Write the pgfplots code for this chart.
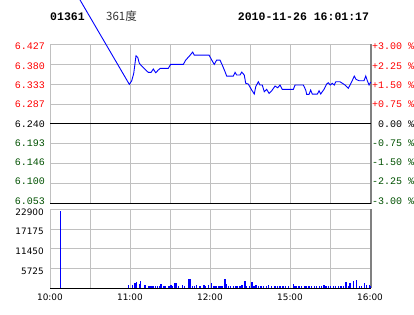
\documentclass[border=0pt]{standalone}
\usepackage{pgfplots}
\pgfplotsset{compat=1.18}
\usepackage{fontspec}
\setmainfont{DejaVu Sans}
\newfontfamily\monof{Liberation Mono}
\newfontfamily\cjk{Noto Sans CJK SC}
\definecolor{gridgray}{RGB}{192,192,192}
\definecolor{bordergray}{RGB}{128,128,128}
\definecolor{dgreen}{RGB}{0,80,0}
\definecolor{lblred}{RGB}{255,0,0}
\begin{document}
\begin{tikzpicture}
\pgfplotsset{
  base/.style={scale only axis, xmin=0, xmax=240.75, xtick={0,30,...,240},
    major tick length=0pt, axis line style={draw=none}, clip=false,
    scaled y ticks=false, scaled x ticks=false,
    /pgf/number format/assume math mode=true},
  lbl/.style={base, at={(50pt,113.2pt)}, anchor=south west, width=321pt, height=154.1pt,
    ymin=6.0528, ymax=6.4272, xtick=\empty,
    ytick={6.0528,6.0996,6.1464,6.1932,6.24,6.2868,6.3336,6.3804,6.4272}},
}
% ---------- price panel ----------
\begin{axis}[base, at={(50pt,110.5pt)}, anchor=south west, width=321pt, height=159.2pt,
  ymin=6.0528, ymax=6.4272, grid=major, major grid style={gridgray, line width=0.9pt},
  ytick={6.0528,6.0996,6.1464,6.1932,6.24,6.2868,6.3336,6.3804,6.4272},
  yticklabel=\empty, xticklabel=\empty]
\draw[gridgray, line width=0.9pt] (rel axis cs:0,0) -- (rel axis cs:0,1) -- (rel axis cs:1,1);
\draw[bordergray, line width=1.2pt] (rel axis cs:1,1) -- (rel axis cs:1,0);
\draw[black, line width=1.2pt] (rel axis cs:0,0) -- (rel axis cs:1,0);
\draw[black, line width=1pt] (axis cs:0,6.24) -- (axis cs:240.75,6.24);
\addplot[blue, line width=0.9pt] coordinates {
(7.7,6.611) (59.5,6.333) (61.3,6.3415) (62.8,6.3589) (64.5,6.4002) (65.8,6.3965)
(67.0,6.3824) (68.8,6.376) (71.3,6.3683) (73.7,6.3612) (75.8,6.3612) (77.5,6.369)
(79.3,6.3603) (81.2,6.3666) (82.7,6.3706) (88.7,6.3706) (90.5,6.380) (100,6.380)
(101.8,6.3901) (105,6.4012) (107,6.4089) (108.2,6.4019) (119.3,6.4019) (121.3,6.3901)
(123.2,6.380) (125,6.3901) (127.5,6.3901) (129.2,6.3784) (131.3,6.3626) (132.5,6.3525)
(137.5,6.3525) (138.8,6.3612) (140,6.3549) (142.5,6.3549) (143.8,6.3619) (145.7,6.3549)
(146.8,6.3354) (148.7,6.3337) (151.3,6.3196) (153.2,6.3102) (154.3,6.3274) (156.2,6.3391)
(157.5,6.3314) (159.2,6.3314) (160.7,6.3156) (162.5,6.3213) (164.3,6.3119) (166.3,6.318)
(168.8,6.329) (170.8,6.325) (172.5,6.3314) (174.2,6.3213) (182.5,6.3213) (183.8,6.3314)
(190,6.3314) (191.8,6.3196) (192.5,6.3095) (194.3,6.3095) (195.5,6.3196) (196.7,6.3102)
(200.5,6.3102) (201.8,6.318) (203,6.3102) (205.5,6.3213) (207.5,6.3337) (208.7,6.3368)
(210.2,6.3314) (211.7,6.3354) (213.2,6.3314) (214.3,6.3391) (217.5,6.3391) (221.3,6.3314)
(223.7,6.3236) (226.3,6.3391) (228.2,6.3525) (229.5,6.3448) (231.8,6.3415) (235.5,6.3415)
(236.8,6.3525) (238,6.3415) (239.3,6.3314) (240.5,6.3384)
};
\end{axis}
% ---------- price labels (left) ----------
\begin{axis}[lbl,
  yticklabels={\textcolor{dgreen}{6.053},\textcolor{dgreen}{6.100},\textcolor{dgreen}{6.146},\textcolor{dgreen}{6.193},6.240,\textcolor{lblred}{6.287},\textcolor{lblred}{6.333},\textcolor{lblred}{6.380},\textcolor{lblred}{6.427}},
  yticklabel style={anchor=east, inner sep=0pt, xshift=-5pt, font=\monof\fontsize{10}{10}\selectfont}]
\end{axis}
% ---------- percent labels (right) ----------
\begin{axis}[lbl, yticklabel pos=right,
  yticklabels={\textcolor{dgreen}{-3.00~\%},\textcolor{dgreen}{-2.25~\%},\textcolor{dgreen}{-1.50~\%},\textcolor{dgreen}{-0.75~\%},\phantom{+}0.00~\%,\textcolor{lblred}{+0.75~\%},\textcolor{lblred}{+1.50~\%},\textcolor{lblred}{+2.25~\%},\textcolor{lblred}{+3.00~\%}},
  yticklabel style={anchor=west, inner sep=0pt, xshift=0.8pt, font=\monof\fontsize{10}{10}\selectfont}]
\end{axis}
% ---------- volume panel ----------
\begin{axis}[base, at={(50pt,25.7pt)}, anchor=south west, width=321pt, height=79pt,
  ymin=0, ymax=22900, grid=major, major grid style={gridgray, line width=0.9pt},
  ytick={0,5725,11450,17175,22900}, yticklabels={,5725,11450,17175,22900},
  xticklabels={10:00,,11:00,,12:00,,15:00,,16:00},
  yticklabel style={anchor=east, inner sep=0pt, xshift=-6pt, yshift=-2.7pt, font=\fontsize{8.9}{9}\selectfont},
  xticklabel style={anchor=north, inner sep=0pt, yshift=-5.5pt, font=\fontsize{8.9}{9}\selectfont}]
\draw[gridgray, line width=0.9pt] (rel axis cs:0,0) -- (rel axis cs:0,1) -- (rel axis cs:1,1);
\draw[bordergray, line width=1.2pt] (rel axis cs:1,1) -- (rel axis cs:1,0);
\addplot[ycomb, blue, line width=1.3pt, no marks] coordinates {
(7.7,22400) (58.7,960) (61.7,960) (63.8,1450) (64.7,1740) (67,1160) (68,2120) (71.3,960)
(74.3,670) (75.8,670) (77.3,670) (79.3,670) (80.5,670) (82.5,670) (83.3,1250) (85.5,670)
(86.8,670) (89.3,670) (90.8,960) (91.5,670) (93.8,1540) (94.5,1540) (96.5,670) (99.5,960)
(100.7,670) (104.3,2700) (105.5,2700) (107,670) (108.2,670) (110,960) (112,670) (113,670)
(115.5,960) (116.5,670) (119,960) (121.3,1540) (123,670) (124.5,670) (126.2,670) (127.5,670)
(129,670) (131.3,2700) (132,1250) (134,670) (135.2,670) (137.5,670) (139.5,670) (140.5,670)
(142.5,670) (144,960) (146.3,2120) (147.5,670) (149.5,670) (151.5,1830) (153,670) (154.5,960)
(156.2,670) (158.3,670) (160.3,670) (162.2,670) (164,960) (166.3,670) (168.8,670) (170.5,670)
(172.5,670) (174.8,670) (176.8,670) (178.7,670) (182.5,1160) (183.8,670) (185,670) (186.8,670)
(188.8,670) (191.3,670) (192.5,670) (194.3,670) (196.3,670) (198.3,670) (200,670) (202,670)
(203.8,670) (205.5,960) (207,670) (208.7,670) (210.5,670) (212.5,670) (214.3,670) (216.3,670)
(218.3,670) (220,670) (222,1740) (223.7,670) (225,1450) (227.5,2120) (230,2400) (232,670)
(233.8,670) (235.7,1450) (237.5,960) (239.5,960) (240.5,670)
};
\draw[black, line width=1.2pt] (rel axis cs:0,0) -- (rel axis cs:1,0);
\end{axis}
% ---------- header ----------
\node[anchor=base west, inner sep=0pt, font=\monof\bfseries\fontsize{11.5}{12}\selectfont] at (50pt,293.3pt) {01361};
\node[anchor=base west, inner sep=0pt, text=black!80, font=\cjk\fontsize{11.5}{12}\selectfont] at (106pt,293.5pt) {361度};
\node[anchor=base west, inner sep=0pt, font=\monof\bfseries\fontsize{11.5}{12}\selectfont] at (237.7pt,293.3pt) {2010-11-26 16:01:17};
\pgfresetboundingbox
\path (0pt,0pt) rectangle (414pt,314pt);
\end{tikzpicture}
\end{document}
